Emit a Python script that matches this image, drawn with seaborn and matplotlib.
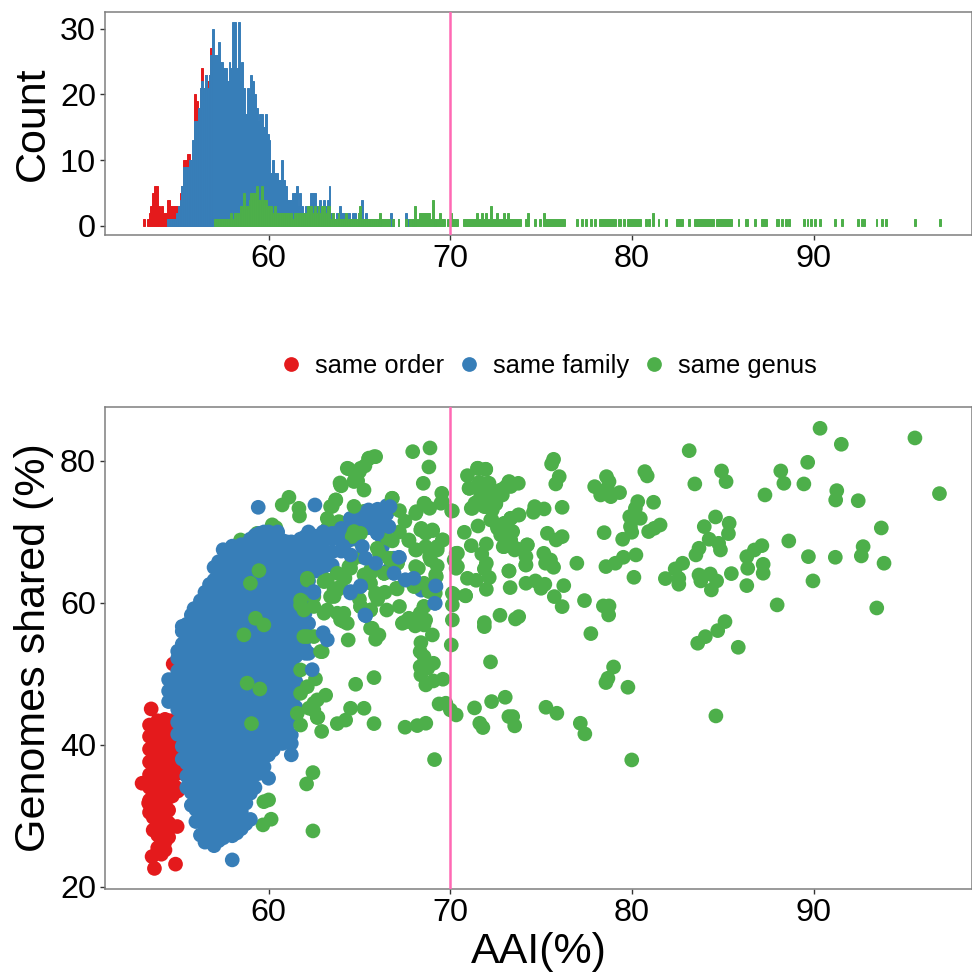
import numpy as np
import pandas as pd
import matplotlib
matplotlib.use("Agg")
import matplotlib.pyplot as plt
import seaborn as sns

sns.set_theme(style="white")
plt.rcParams['font.family'] = ['Liberation Sans', 'DejaVu Sans']
plt.rcParams['text.color'] = 'black'
plt.rcParams['axes.labelcolor'] = 'black'

COL = {"same order": "#E41A1C", "same family": "#377EB8", "same genus": "#4DAF4A"}
HUE_ORDER = ["same order", "same family", "same genus"]
PINK = "#FF69B4"

# ---------- histogram (bin width 0.1) ----------
red_first_bin = 53.1
red_counts = [1,0,1,2,3,5,6,6,3,2,3,2,2,4,4,3,3,3,3,3,5,6,10,10,11,11,10,11,20,19,18,21,24,21,23,22,23,27]
blue_first_bin = 54.4
blue_counts = [1,1,1,1,1,2,3,4,6,9,9,9,10,10,13,16,16,18,21,22,21,23,21,23,26,30,26,26,28,25,25,24,24,22,25,24,
               31,31,24,31,22,25,21,17,21,20,23,22,20,18,16,17,17,15,17,14,13,8,10,8,8,7,7,10,7,6,4,4,4,5,5,6,3,5,3,2,
               3,3,3,5,5,5,3,2,4,2,4,3,4,6,2,2,1,2,1,3,2,2,1,2,2,1,2,2,1,2,2,4,1,2,1,1,1,1,1,1,1,1,0,0,0,0,0,2,1,0,0,1,0,0,0,2,1,0,0,1,1,0,0,0,0,0,0,0,0,0,0,1]
green_first_bin = 57.0
green_counts = [1,1,1,1,1,1,1,1,1,2,1,2,2,2,3,3,5,3,3,4,
                5,5,5,6,4,4,6,4,4,3,3,3,2,3,2,2,2,2,2,2,
                2,2,2,1,2,2,2,2,2,2,2,3,2,3,2,3,2,3,2,3,
                3,2,3,3,1,2,1,1,2,1,1,1,2,1,1,1,1,1,1,2,
                3,1,1,1,1,1,1,1,1,1,1,2,1,1,1,1,1,0,1,0,
                0,1,0,0,0,1,0,1,1,1,3,1,1,2,2,2,2,2,2,1,
                4,1,1,1,2,1,1,0,1,0]
green_far_aai = [70.05,70.05,70.15,70.25,70.35,70.75,70.85,70.95,71.05,71.15,71.25,71.35,71.45,71.45,71.55,71.65,71.75,71.75,
                 71.85,71.95,71.95,72.05,72.15,72.25,72.25,72.25,72.35,72.45,72.55,72.55,72.65,72.75,72.85,72.95,72.95,73.05,
                 73.15,73.15,73.25,73.35,73.45,73.55,73.65,73.75,73.85,74.15,74.25,74.25,74.65,74.95,75.15,75.15,75.25,75.35,
                 75.45,75.55,75.65,75.75,75.85,75.95,76.05,76.15,76.25,76.95,77.25,77.45,77.75,77.95,78.25,78.35,78.45,78.55,
                 78.65,78.75,78.85,78.95,79.05,79.25,79.35,79.55,79.75,79.85,79.95,80.05,80.15,80.25,80.35,80.45,80.75,80.95,
                 81.15,81.15,81.45,81.85,82.45,82.55,82.65,82.75,83.15,83.45,83.55,83.65,83.75,83.85,83.95,84.05,84.15,84.25,
                 84.35,84.45,84.65,84.75,84.85,84.95,85.05,85.15,85.25,85.35,85.45,85.85,86.25,86.35,86.75,87.15,87.25,87.35,
                 87.95,88.05,88.25,88.45,88.65,89.45,89.65,89.85,90.05,90.35,91.15,91.55,92.45,92.65,92.75,93.45,93.75,93.95,
                 95.55,96.95]

# ---------- scatter ----------
red_col_aai = [53.45, 53.65, 53.9, 54.1, 54.3, 54.5, 54.7, 54.9, 55.0]
red_col_shared = [[30.5,32.2,34.0,35.8,37.6,39.4,41.2,42.8],
                  [28.0,29.8,31.6,33.4,35.2,37.0,38.8,40.6,42.4],
                  [25.5,27.3,29.1,30.9,32.7,34.5,36.3,38.1,39.9,41.7,43.4],
                  [26.4,28.2,30.0,31.8,33.6,35.4,37.2,39.0,40.8,42.6],
                  [26.3,28.1,29.9,31.7,33.5,35.3,37.1,38.9,40.7,42.5,43.6],
                  [29.0,30.8,32.6,34.4,36.2,38.0,39.8,41.6,43.4],
                  [32.8,34.6,36.4,38.2,40.0,41.8,43.4],
                  [34.0,37.5,39.5,41.5],
                  [33.5,36.0,38.0,41.0]]
red_extra_aai = [53.04,53.54,54.75,53.72,54.88,53.59,54.97,54.3,54.1,54.5,53.4]
red_extra_shared = [34.6,45.07,51.4,22.6,23.2,24.27,28.5,25.2,24.6,27.0,31.8]

green_back_aai = [58.46,59.37,59.56,60.0,59.74,60.14,59.69,63.23,63.23,63.87,64.88,64.7,64.33,65.25,58.82,60.2,60.4]
green_back_shared = [68.87,69.8,68.4,32.25,32.0,29.53,28.73,70.5,71.9,71.45,68.9,70.04,68.87,72.9,66.05,71.0,70.6]

blue_col_aai = [54.5,55.0,55.25,55.5,55.75,56.0,56.25,56.5,56.75,57.0,57.25,57.5,57.75,58.0,58.25,58.5,58.75,59.0,59.25,59.5,59.75,
                60.0,60.25,60.5,60.75,61.0,61.25,61.5,61.75,62.0,62.2,62.6,63.0,63.5,64.0,64.5,65.0,65.5,66.0,66.5]
blue_col_shared = [
    [46.1,47.6,49.2],
    [41.5,43.2,45.0,46.8,48.6,50.4,52.2,53.2],
    [38.0,39.8,41.6,43.4,45.2,47.0,48.8,50.6,52.4,54.2,56.0],
    [34.0,35.6,37.4,39.2,41.0,42.8,44.6,46.4,48.2,50.0,51.8,53.6,55.4,57.0],
    [31.5,33.3,35.1,36.9,38.7,40.5,42.3,44.1,45.9,47.7,49.5,51.3,53.1,54.9,56.7,58.3],
    [29.2,30.9,32.6,34.4,36.2,38.0,39.8,41.6,43.4,45.2,47.0,48.8,50.6,52.4,54.2,56.0,57.8,59.2],
    [27.3,29.9,31.7,33.5,35.3,37.1,38.9,40.7,42.5,44.3,46.1,47.9,49.7,51.5,53.3,55.1,56.9,58.7,60.3],
    [26.3,28.0,29.8,31.6,33.4,35.2,37.0,38.8,40.6,42.4,44.2,46.0,47.8,49.6,51.4,53.2,55.0,56.8,58.6,60.4,61.5],
    [26.8,28.6,30.4,32.2,34.0,35.8,37.6,39.4,41.2,43.0,44.8,46.6,48.4,50.2,52.0,53.8,55.6,57.4,59.2,61.0,62.6],
    [25.8,27.2,29.0,30.8,32.6,34.4,36.2,38.0,39.8,41.6,43.4,45.2,47.0,48.8,50.6,52.4,54.2,56.0,57.8,59.6,61.4,63.2,65.0],
    [26.5,28.3,30.1,31.9,33.7,35.5,37.3,39.1,40.9,42.7,44.5,46.3,48.1,49.9,51.7,53.5,55.3,57.1,58.9,60.7,62.5,64.3,65.8],
    [26.9,28.1,29.9,31.7,33.5,35.3,37.1,38.9,40.7,42.5,44.3,46.1,47.9,49.7,51.5,53.3,55.1,56.9,58.7,60.5,62.3,64.1,65.9,67.5],
    [27.7,29.5,31.3,33.1,34.9,36.7,38.5,40.3,42.1,43.9,45.7,47.5,49.3,51.1,52.9,54.7,56.5,58.3,60.1,61.9,63.7,65.5,67.3],
    [23.8,27.2,29.0,30.8,32.6,34.4,36.2,38.0,39.8,41.6,43.4,45.2,47.0,48.8,50.6,52.4,54.2,56.0,57.8,59.6,61.4,63.2,65.0,66.8,68.0],
    [27.6,29.7,31.5,33.3,35.1,36.9,38.7,40.5,42.3,44.1,45.9,47.7,49.5,51.3,53.1,54.9,56.7,58.5,60.3,62.1,63.9,65.7,67.5],
    [28.2,30.6,32.4,34.2,36.0,37.8,39.6,41.4,43.2,45.0,46.8,48.6,50.4,52.2,54.0,55.8,57.6,59.4,61.2,63.0,64.8,66.6,68.2],
    [28.9,31.8,33.6,35.4,37.2,39.0,40.8,42.6,44.4,46.2,48.0,49.8,51.6,53.4,55.2,57.0,58.8,60.6,62.4,64.2,66.0,67.8],
    [29.5,33.2,35.0,36.8,38.6,40.4,42.2,44.0,45.8,47.6,49.4,51.2,53.0,54.8,56.6,58.4,60.2,62.0,63.8,65.6,67.4,69.0],
    [34.0,35.8,37.6,39.4,41.2,43.0,44.8,46.6,48.4,50.2,52.0,53.8,55.6,57.4,59.2,61.0,62.8,64.6,66.4,68.2,69.5],
    [36.0,37.6,39.4,41.2,43.0,44.8,46.6,48.4,50.2,52.0,53.8,55.6,57.4,59.2,61.0,62.8,64.6,66.4,68.2,69.8],
    [36.9,38.7,40.5,42.3,44.1,45.9,47.7,49.5,51.3,53.1,54.9,56.7,58.5,60.3,62.1,63.9,65.7,67.5,69.3,70.0],
    [35.3,38.6,40.4,42.2,44.0,45.8,47.6,49.4,51.2,53.0,54.8,56.6,58.4,60.2,62.0,63.8,65.6,67.4,69.2,70.0],
    [39.3,41.1,42.9,44.7,46.5,48.3,50.1,51.9,53.7,55.5,57.3,59.1,60.9,62.7,64.5,66.3,68.1,69.7],
    [40.3,41.6,43.4,45.2,47.0,48.8,50.6,52.4,54.2,56.0,57.8,59.6,61.4,63.2,65.0,66.8,68.6,70.0],
    [40.2,42.0,43.8,45.6,47.4,49.2,51.0,52.8,54.6,56.4,58.2,60.0,61.8,63.6,65.4,67.2,68.8],
    [40.4,42.5,44.3,46.1,47.9,49.7,51.5,53.3,55.1,56.9,58.7,60.5,62.3,64.1,65.9,67.7,68.6],
    [38.6,40.2,41.4,43.4,45.2,47.0,48.8,50.6,52.4,54.2,56.0,57.8,59.6,61.4,63.2,65.0,66.8,68.6],
    [43.5,45.3,47.1,48.9,50.7,52.5,54.3,56.1,57.9,59.7,61.5,63.3,65.1,66.9,68.5],
    [53.2,55.0,56.8,58.6,60.4,62.2,64.0,65.8,67.6,69.0],
    [53.5,54.9,56.7,58.5,60.3,62.1,63.9,65.7,67.5,69.3],
    [52.9,57.1,59.5,61.3,63.1,64.9,66.7,68.5,70.0],
    [64.5,66.0,67.6,69.4],
    [65.0,66.3,67.5,68.9,70.0],
    [65.3,67.2,69.0,69.8],
    [67.3,69.0,70.5],
    [68.9,70.5,71.9],
    [70.0,71.6,72.6],
    [70.6,72.0,73.1],
    [69.8,71.2,72.5,73.2],
    [70.7,72.5,73.7],
]
blue_extra_aai = [59.43,62.55,55.25,55.9,66.9,67.2,66.89,67.51,67.99,69.21,69.17,66.26,66.58,66.16,67.7,68.4]
blue_extra_shared = [73.47,73.8,56.7,59.2,66.3,66.38,64.18,63.24,63.38,62.3,59.95,67.9,64.6,69.5,63.2,61.8]

green_aai = [67.93,68.88,68.82,68.51,66.80,69.53,68.55,68.13,68.86,69.48,70.07,68.40,69.03,68.65,67.72,68.13,69.59,69.28,68.86,70.32,
             70.32,70.21,69.28,68.24,66.68,67.09,66.37,69.23,68.03,68.55,67.07,69.17,70.11,70.83,70.11,68.55,68.34,67.72,67.45,68.07,
             68.55,70.11,69.01,68.38,70.05,68.34,68.55,69.07,68.34,68.76,68.38,68.65,69.07,69.59,69.38,69.75,70.0,70.32,67.51,68.18,68.65,69.13,
             70.94,71.52,71.94,71.04,71.60,72.08,73.22,73.74,72.81,72.39,71.77,71.35,71.15,71.87,72.50,73.02,71.52,70.77,71.15,71.98,
             71.73,71.98,71.87,72.14,70.94,71.42,71.98,73.29,73.22,72.29,73.02,73.74,73.33,72.60,73.43,73.12,72.91,73.54,74.22,74.16,
             74.16,74.64,74.57,75.16,76.15,75.34,75.82,76.15,75.14,75.24,75.68,75.51,76.96,74.16,74.68,74.99,75.20,76.24,75.72,76.15,
             77.38,78.42,78.73,78.71,77.73,72.73,73.58,73.76,71.87,71.87,72.21,72.27,73.02,71.33,71.62,71.79,73.22,73.43,73.54,75.26,
             75.86,77.15,77.40,79.98,78.98,78.67,78.56,79.77,75.68,75.57,75.99,75.80,77.94,78.27,78.59,78.73,78.83,79.31,78.63,80.70,
             80.83,80.31,80.18,81.18,79.87,80.45,79.91,79.98,78.46,79.48,80.91,81.22,81.54,80.21,79.52,79.08,78.56,80.10,81.83,82.57,
             82.57,82.37,82.78,83.51,83.68,84.24,84.76,84.86,83.97,84.59,85.34,85.30,83.68,83.78,84.30,84.65,84.36,85.46,86.31,86.36,
             86.31,86.73,87.14,87.21,87.21,88.62,89.70,91.18,92.61,92.71,93.86,89.95,87.98,93.46,93.71,87.31,88.18,88.35,89.45,89.66,
             90.34,91.51,95.56,96.91,91.26,91.20,92.44,83.14,83.45,84.92,85.17,83.61,84.03,84.71,85.11,85.84,84.61,
             60.75,61.12,61.67,61.7,63.96,64.7,65.25,66.8,63.5,63.7,64.7,59.47,59.0,59.74,58.64,59.28,59.52,58.82,59.06,62.44,62.44,62.09,
             65.8,64.79,65.25,64.51,64.24,63.78,65.8,62.92,61.76,62.68,62.49,61.58,63.14,62.58,62.13,61.76,62.49,61.76,62.95,62.49,61.94,
             64.38,65.7,66.07,65.89,67.36,63.96,64.33,64.14,65.61,65.06,61.76,62.49,63.23,63.41,63.96,62.13,63.23,64.51,65.61,66.35,65.89,
             67.03,66.71,65.43,64.4,65.0,65.3,65.5,65.8,64.9,64.0,66.0,66.5,65.0,64.2,63.6,64.6,65.1,66.1,67.2,67.5,67.2,66.4,67.2]
green_shared = [81.31,81.83,79.15,76.85,74.74,75.44,74.04,72.86,73.33,74.04,72.96,70.5,70.19,69.81,68.78,67.46,68.87,67.93,66.52,66.99,
                64.88,66.05,65.21,64.88,66.29,65.59,64.18,63.71,62.39,62.77,61.97,61.36,61.36,61.03,59.72,59.48,58.54,57.84,57.28,56.76,
                56.9,57.6,55.49,54.41,54.08,53.14,52.44,51.5,51.03,50.8,49.86,48.45,49.01,49.25,45.77,45.87,44.93,44.22,42.49,42.72,43.05,37.93,
                77.93,78.97,78.82,76.15,76.99,76.85,76.99,76.85,75.91,75.21,75.21,74.04,73.33,73.57,73.94,76.29,70.84,69.95,68.07,68.31,
                66.9,65.59,64.79,63.57,63.47,63.19,61.92,62.16,64.5,71.69,71.22,72.39,71.92,70.51,70.05,69.1,67.93,67.46,68.17,66.52,
                65.35,73.57,72.77,73.24,73.47,69.81,68.87,69.34,66.99,65.59,65.02,66.05,65.59,62.77,63.1,62.06,62.63,62.44,60.89,59.48,
                60.33,59.58,59.58,58.31,55.68,58.26,57.74,58.07,57.23,56.66,51.69,46.1,46.71,45.21,43.05,42.44,43.99,43.99,42.68,45.3,
                44.46,43.05,41.55,37.88,50.98,49.39,48.78,48.12,80.23,79.58,77.79,76.76,76.38,75.21,77.79,77.09,74.97,75.54,76.15,78.5,
                77.89,74.27,73.33,74.18,72.16,71.92,70.75,69.95,69.9,68.97,70.05,70.51,70.98,66.76,66.43,65.59,65.12,63.61,63.43,62.63,
                63.47,64.79,65.59,66.76,67.7,68.97,68.4,67.46,70.75,72.11,71.22,69.76,63.94,63.1,64.08,63.1,61.83,64.13,62.44,64.88,
                66.52,67.46,68.07,65.44,64.18,68.73,66.52,66.43,66.62,67.93,65.59,63.1,59.72,59.29,70.56,75.21,78.59,76.85,76.76,79.81,
                84.6,82.35,83.24,75.4,75.82,74.5,74.4,81.45,76.76,78.59,77.09,54.32,55.25,56.1,57.37,53.75,44.08,
                73.8,74.88,73.33,72.25,76.6,77.1,75.9,74.74,73.6,74.5,73.6,64.55,62.77,56.9,55.5,57.84,47.88,48.7,43.0,27.88,36.1,34.5,
                49.48,48.54,45.16,45.16,43.5,43.0,43.0,41.9,42.8,43.85,44.9,44.46,47.0,49.3,48.2,47.27,45.87,50.56,53.14,55.26,55.26,
                54.78,56.43,55.49,54.88,57.13,57.6,57.13,58.54,59.0,59.48,59.7,60.89,59.0,60.89,62.3,63.23,63.23,64.88,64.64,64.18,61.12,
                62.06,66.05,63.23,78.9,78.5,79.3,80.3,80.6,77.2,76.5,60.5,59.0,60.5,63.5,62.0,66.0,66.5,66.9,70.0,71.5,73.0,61.5,59.5]

green_more_aai = [65.89,65.52,65.06,64.33,64.73,63.93,63.69,63.41,68.59,68.09,69.56,70.11,68.37,69.01,67.72,68.09,69.56,69.28,68.64,68.92,
                  68.09,70.39,70.39,69.19,68.0,68.82,70.2,70.84,68.55,67.72,68.18,68.64,64.7,65.06,65.98,66.53,66.81,66.62,67.08,66.35,
                  64.42,64.6,65.25,65.61,65.89,65.06,65.61,64.15,63.78,63.05,62.13,63.78,63.6,61.76,63.05,64.15,63.78,61.94,62.49,65.61,
                  65.61,62.71,62.68,62.22,62.86,62.13,71.49,71.95,71.03,71.58,72.13,73.23,72.77,72.4,71.85,71.49,71.21,71.95,72.5,72.22,
                  71.67,72.86,73.32,72.31,72.22,73.78,73.32,72.96,72.59,73.32,72.77,73.32,72.96,73.6,74.24,74.15,73.23]
green_more_shared = [80.6,80.4,78.97,78.97,77.3,76.9,74.5,73.57,74.0,72.6,74.25,72.96,70.28,70.28,68.87,67.47,68.87,67.47,67.94,66.05,
                     65.12,67.0,65.12,63.95,62.3,61.6,61.13,61.0,59.5,57.37,57.6,57.6,70.05,69.8,67.7,69.1,68.74,66.29,65.59,64.18,
                     65.12,69.35,63.95,64.18,61.37,59.5,59.0,63.71,64.18,63.0,63.47,61.83,60.9,60.4,58.55,57.37,58.55,59.0,59.5,56.44,
                     62.77,43.9,46.34,45.17,53.15,55.26,78.97,78.83,76.15,76.85,76.85,77.1,75.9,75.0,75.0,74.27,73.33,73.57,74.0,75.44,
                     75.44,75.2,76.4,73.1,71.69,72.39,71.92,71.22,70.75,70.05,69.58,68.87,67.93,67.7,68.17,65.35,64.5]

blue_top_aai = [64.5,65.06,65.3,62.4,62.49,63.23,63.0,62.03,64.1,66.68,65.8,65.43,66.16,66.62,65.98,65.16,64.15,64.51,65.34,65.89,67.17,66.9,67.54,67.99,69.19,69.14,65.06,64.51,65.34,62.49]
blue_top_shared = [61.4,62.3,58.3,50.6,61.6,54.8,55.8,52.9,68.0,73.57,72.9,71.7,72.16,70.75,69.8,67.94,67.47,66.76,66.29,65.59,66.43,64.18,63.24,63.47,62.4,59.95,62.4,61.6,58.2,61.45]

x_ticks = [60, 70, 80, 90]
count_ticks = [0, 10, 20, 30]
shared_ticks = [20, 40, 60, 80]
cutoff = 70


def expand(col_x, col_y):
    xs, ys = [], []
    for x, col in zip(col_x, col_y):
        xs += [x] * len(col)
        ys += col
    return xs, ys


def style(ax):
    for s in ax.spines.values():
        s.set_visible(True)
        s.set_color("#7f7f7f")
        s.set_linewidth(1.1)
    ax.tick_params(axis="both", which="major", length=3.5, width=1.0, color="#333333",
                   labelsize=23.3, labelcolor="black", pad=3, bottom=True, left=True)
    ax.set_xticks(x_ticks)
    ax.set_xlim(51.0, 98.7)
    ax.axvline(cutoff, color=PINK, lw=1.8, zorder=5)


W, H = 972, 974
fig = plt.figure(figsize=(W / 100, H / 100), dpi=100)
fig.patch.set_facecolor("white")
ax1 = fig.add_axes([105 / W, 1 - 235 / H, (W - 105) / W, 223 / H])
ax2 = fig.add_axes([105 / W, 1 - 889 / H, (W - 105) / W, 482 / H])

# top histogram
edges = dict(binwidth=0.1, binrange=(52.9, 97.2), element="bars", alpha=1, ax=ax1, stat="count", linewidth=0.7)
red_c = [red_first_bin + 0.1 * i + 0.05 for i in range(len(red_counts))]
blue_c = [blue_first_bin + 0.1 * i + 0.05 for i in range(len(blue_counts))]
green_c = [green_first_bin + 0.1 * i + 0.05 for i in range(len(green_counts))]
sns.histplot(x=red_c, weights=red_counts, color=COL["same order"], edgecolor=COL["same order"], **edges)
sns.histplot(x=blue_c, weights=blue_counts, color=COL["same family"], edgecolor=COL["same family"], **edges)
sns.histplot(x=green_c + green_far_aai, weights=green_counts + [1] * len(green_far_aai),
             color=COL["same genus"], edgecolor=COL["same genus"], **edges)
# zero-height bins must not leave a line along the baseline
for p in ax1.patches:
    if p.get_height() == 0:
        p.set_visible(False)
ax1.set_ylim(-1.4, 32.55)
ax1.set_yticks(count_ticks)
ax1.set_ylabel("Count", fontsize=31, labelpad=5)
ax1.set_xlabel("")
style(ax1)

# bottom scatter: rows are drawn in data order
rx, ry = expand(red_col_aai, red_col_shared)
bx, by = expand(blue_col_aai, blue_col_shared)
rows = []
for g, xs, ys in [("same order", rx + red_extra_aai, ry + red_extra_shared),
                  ("same genus", green_back_aai, green_back_shared),
                  ("same family", bx + blue_extra_aai, by + blue_extra_shared),
                  ("same genus", green_aai + green_more_aai, green_shared + green_more_shared),
                  ("same family", blue_top_aai, blue_top_shared)]:
    rows.append(pd.DataFrame({"aai": xs, "shared": ys, "group": g}))
df = pd.concat(rows, ignore_index=True)
sns.scatterplot(data=df, x="aai", y="shared", hue="group", hue_order=HUE_ORDER, palette=COL,
                s=112, linewidth=0, alpha=1, ax=ax2, legend="full", clip_on=True)
ax2.set_ylim(19.7, 87.6)
ax2.set_yticks(shared_ticks)
ax2.set_xlabel("AAI(%)", fontsize=31, labelpad=3)
ax2.set_ylabel("Genomes shared (%)", fontsize=31, labelpad=4)
style(ax2)

handles, labels = ax2.get_legend_handles_labels()
ax2.get_legend().remove()
for h in handles:
    h.set_sizes([112]) if hasattr(h, "set_sizes") else h.set_markersize(10.6)
fig.legend(handles, labels, loc="center", bbox_to_anchor=(547.5 / W, 1 - 366 / H), ncol=3, frameon=False,
           fontsize=18.4, handletextpad=0.43, columnspacing=0.47, handlelength=1.0, borderpad=0)

fig.savefig("out.png", dpi=100, facecolor="white")
